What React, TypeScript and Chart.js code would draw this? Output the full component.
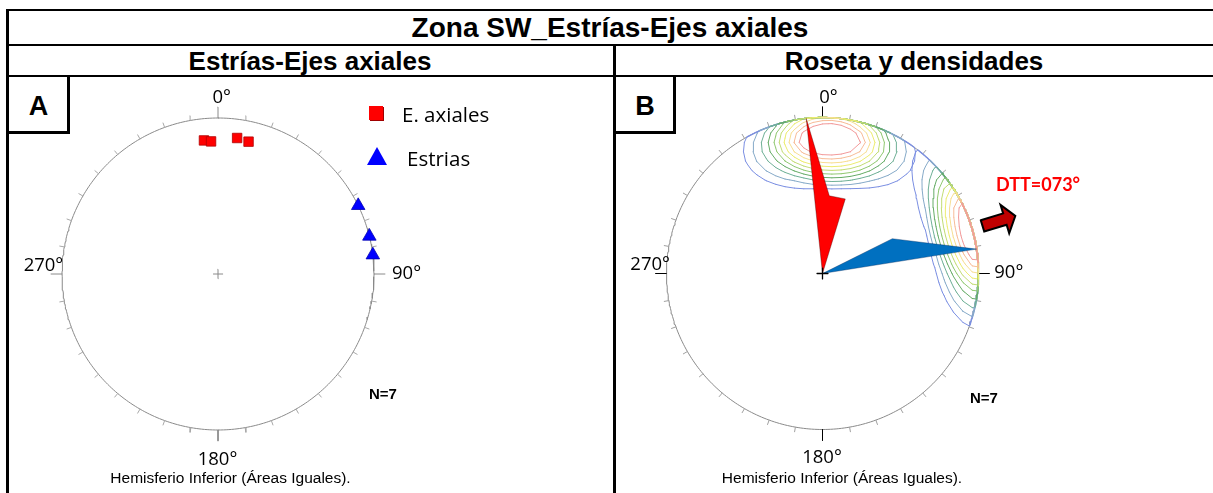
import React, { useEffect, useRef } from "react";
import { Chart, registerables } from "chart.js";

Chart.register(...registerables);

// ---------------- data ----------------
const axialTrends = [354, 357, 8, 13];
const axialPlunges = [15, 16, 13, 14];
const striaTrends = [64, 76, 83];
const striaPlunges = [0, 0, 0];

const roseAxialDirections = [354, 5, 17];
const roseAxialLengths = [1.0, 0.5, 0.5];
const roseStriaDirections = [63.5, 81];
const roseStriaLengths = [0.5, 1.0];

const dttAzimuth = 73;
const cardinalAngles = [0, 90, 180, 270];
const cardinalLabels = ["0°", "90°", "180°", "270°"];
const tickAngles = [10, 20, 30, 40, 50, 60, 70, 80, 100, 110, 120, 130, 140, 150, 160, 170, 190, 200, 210, 220, 230, 240, 250, 260, 280, 290, 300, 310, 320, 330, 340, 350];
const contourFractions = [0.08, 0.16, 0.24, 0.32, 0.4, 0.48, 0.56, 0.64, 0.72, 0.8];

// ---------------- styles / geometry ----------------
const contourColors = ["#7b8fe2", "#86aac8", "#6fb096", "#66ac66", "#90c870", "#c2dc74", "#ecec70", "#f7de92", "#f7bc98", "#f29a9a"];
const R_PX = 156;
const LEFT_C = { x: 218, y: 274 };
const RIGHT_C = { x: 822.5, y: 273.5 };
const LEFT_BOX = { left: 38, top: 94, width: 360, height: 360 };
const RIGHT_BOX = { left: 622, top: 93, width: 400, height: 362 };
const CONE_DEG = 33; // counting-cone half angle of the density kernel
const DEG = Math.PI / 180;

type P = { x: number | null; y: number | null };
const GAP: P = { x: null, y: null };

const polar = (az: number, r: number) => ({ x: r * Math.sin(az * DEG), y: r * Math.cos(az * DEG) });
function toPlane(trend: number, plunge: number) {
  const th = (90 - plunge) * DEG;
  return polar(trend, Math.SQRT2 * Math.sin(th / 2));
}
function toVec(trend: number, plunge: number) {
  const c = Math.cos(plunge * DEG);
  return [c * Math.sin(trend * DEG), c * Math.cos(trend * DEG), Math.sin(plunge * DEG)];
}
function planeToVec(x: number, y: number) {
  const r = Math.hypot(x, y);
  const th = 2 * Math.asin(Math.min(r / Math.SQRT2, 1));
  const az = Math.atan2(x, y);
  const s = Math.sin(th);
  return [s * Math.sin(az), s * Math.cos(az), Math.cos(th)];
}
function density(v: number[], vecs: number[][]) {
  let s = 0;
  for (const d of vecs) {
    const dot = Math.max(-1, Math.min(1, v[0] * d[0] + v[1] * d[1] + v[2] * d[2]));
    const ang = Math.acos(dot) / DEG;
    s += Math.max(0, 1 - ang / CONE_DEG);
  }
  return s;
}

function clipToCircle(p: { x: number; y: number }, q: { x: number; y: number }) {
  const pin = p.x * p.x + p.y * p.y <= 1;
  const qin = q.x * q.x + q.y * q.y <= 1;
  if (pin && qin) return [p, q];
  if (!pin && !qin) return null;
  const dx = q.x - p.x, dy = q.y - p.y;
  const A = dx * dx + dy * dy, B = 2 * (p.x * dx + p.y * dy), C = p.x * p.x + p.y * p.y - 1;
  const disc = Math.sqrt(Math.max(0, B * B - 4 * A * C));
  if (pin) {
    const t = (-B + disc) / (2 * A);
    return [p, { x: p.x + dx * t, y: p.y + dy * t }];
  }
  const t = (-B - disc) / (2 * A);
  return [{ x: p.x + dx * t, y: p.y + dy * t }, q];
}

function marching(g: number[][], xs: number[], L: number): P[] {
  const out: P[] = [];
  const n = xs.length;
  for (let j = 0; j < n - 1; j++) {
    for (let i = 0; i < n - 1; i++) {
      const va = g[j][i], vb = g[j][i + 1], vc = g[j + 1][i + 1], vd = g[j + 1][i];
      const ia = va >= L, ib = vb >= L, ic = vc >= L, id = vd >= L;
      if (ia === ib && ib === ic && ic === id) continue;
      const A = { x: xs[i], y: xs[j] }, B = { x: xs[i + 1], y: xs[j] };
      const C = { x: xs[i + 1], y: xs[j + 1] }, D = { x: xs[i], y: xs[j + 1] };
      const lerp = (p: any, q: any, vp: number, vq: number) => {
        const t = (L - vp) / (vq - vp);
        return { x: p.x + (q.x - p.x) * t, y: p.y + (q.y - p.y) * t };
      };
      const e0 = ia !== ib ? lerp(A, B, va, vb) : null;
      const e1 = ib !== ic ? lerp(B, C, vb, vc) : null;
      const e2 = ic !== id ? lerp(C, D, vc, vd) : null;
      const e3 = id !== ia ? lerp(D, A, vd, va) : null;
      const pts = [e0, e1, e2, e3].filter(Boolean) as { x: number; y: number }[];
      const segs: any[] = [];
      if (pts.length === 2) segs.push([pts[0], pts[1]]);
      else if (pts.length === 4) {
        const center = (va + vb + vc + vd) / 4 >= L;
        if (center === ia) segs.push([e0, e1], [e2, e3]);
        else segs.push([e3, e0], [e1, e2]);
      }
      for (const s of segs) {
        const c = clipToCircle(s[0], s[1]);
        if (c) out.push(c[0], c[1], GAP);
      }
    }
  }
  return out;
}

function buildContours(trends: number[], plunges: number[]) {
  const vecs = trends.map((t, i) => toVec(t, plunges[i]));
  const h = 0.06, ext = 1.2;
  const n = Math.round((2 * ext) / h) + 1;
  const xs = Array.from({ length: n }, (_, i) => -ext + i * h);
  const g: number[][] = [];
  let max = 0;
  for (let j = 0; j < n; j++) {
    const row: number[] = [];
    for (let i = 0; i < n; i++) {
      const v = density(planeToVec(xs[i], xs[j]), vecs);
      row.push(v);
      if (Math.hypot(xs[i], xs[j]) <= 1 && v > max) max = v;
    }
    g.push(row);
  }
  const rimVals: { p: any; v: number }[] = [];
  for (let a = 0; a <= 360; a += 0.5) {
    const p = polar(a, 1);
    const v = density(planeToVec(p.x * 0.9999, p.y * 0.9999), vecs);
    rimVals.push({ p, v });
    if (v > max) max = v;
  }
  const levels = contourFractions.map((f) => f * max);
  const lines = levels.map((L) => marching(g, xs, L));
  const rims = levels.map((L) => {
    const out: P[] = [];
    let open = false;
    for (const r of rimVals) {
      if (r.v >= L) { out.push(r.p); open = true; }
      else if (open) { out.push(GAP); open = false; }
    }
    return out;
  });
  return { lines, rims };
}

// ---------------- chart helpers ----------------
function makeScales(box: any, c: any) {
  return {
    x: { type: "linear", display: false, bounds: "data", min: (box.left - c.x) / R_PX, max: (box.left + box.width - c.x) / R_PX },
    y: { type: "linear", display: false, bounds: "data", min: -(box.top + box.height - c.y) / R_PX, max: (c.y - box.top) / R_PX },
  };
}
function baseOptions(box: any, c: any): any {
  return {
    responsive: false,
    maintainAspectRatio: false,
    animation: false,
    events: [],
    layout: { padding: 0, autoPadding: false },
    plugins: { legend: { display: false }, tooltip: { enabled: false }, title: { display: false } },
    scales: makeScales(box, c),
  };
}
function lineDS(data: P[], color: string, width: number, order: number, extra: any = {}) {
  return {
    data, borderColor: color, backgroundColor: color, borderWidth: width, pointRadius: 0, pointHoverRadius: 0,
    showLine: true, fill: false, spanGaps: false, order, tension: 0,
    borderCapStyle: "round", borderJoinStyle: "round", ...extra,
  };
}
function circlePts(): P[] {
  const out: P[] = [];
  for (let a = 0; a <= 360; a += 1) out.push(polar(a, 1));
  return out;
}
function tickPts(angles: number[], len: number): P[] {
  const out: P[] = [];
  for (const a of angles) out.push(polar(a, 1), polar(a, 1 + len), GAP);
  return out;
}
function crossPts(s: number): P[] {
  return [{ x: -s, y: 0 }, { x: s, y: 0 }, GAP, { x: 0, y: -s }, { x: 0, y: s }];
}
function rosePts(dirs: number[], lens: number[]): P[] {
  return [{ x: 0, y: 0 }, ...dirs.map((d, i) => polar(d, lens[i])), { x: 0, y: 0 }];
}
function arrowPts(az: number): P[] {
  const u = { x: Math.sin(az * DEG), y: Math.cos(az * DEG) };
  const v = { x: -u.y, y: u.x };
  const off = -0.008;
  const local = [[1.07, 0.038], [1.22, 0.038], [1.22, 0.095], [1.29, 0], [1.22, -0.095], [1.22, -0.038], [1.07, -0.038], [1.07, 0.038]];
  return local.map(([s, w]) => ({ x: u.x * s + v.x * (w + off), y: u.y * s + v.y * (w + off) }));
}

function leftConfig(): any {
  const axial = axialTrends.map((t, i) => toPlane(t, axialPlunges[i]));
  const stria = striaTrends.map((t, i) => toPlane(t, striaPlunges[i]));
  return {
    type: "line",
    data: {
      datasets: [
        lineDS(circlePts(), "#8a8a8a", 1, 100),
        lineDS(tickPts(tickAngles, 0.03), "#a8a8a8", 1, 90),
        lineDS(tickPts(cardinalAngles, 0.07), "#8a8a8a", 1, 89),
        lineDS(crossPts(0.03), "#8a8a8a", 1, 88),
        {
          data: axial, showLine: false, pointStyle: "rect", pointRadius: 6.7, pointHoverRadius: 6.7,
          pointBackgroundColor: "#ff0000", pointBorderColor: "#b00000", pointBorderWidth: 0.8, order: 10,
        },
        {
          data: stria, showLine: false, pointStyle: "triangle", pointRadius: 7.8, pointHoverRadius: 7.8,
          pointBackgroundColor: "#0000ff", pointBorderColor: "#0000b0", pointBorderWidth: 0.8, order: 9,
        },
      ],
    },
    options: baseOptions(LEFT_BOX, LEFT_C),
  };
}

function rightConfig(): any {
  const groups = [buildContours(axialTrends, axialPlunges), buildContours(striaTrends, striaPlunges)];
  const ds: any[] = [
    lineDS(circlePts(), "#8a8a8a", 1, 100),
    lineDS(tickPts(tickAngles, 0.03), "#a0a0a0", 1, 99),
    lineDS(tickPts(cardinalAngles, 0.07), "#000000", 1, 98),
  ];
  groups.forEach((grp) => {
    grp.lines.forEach((l, i) => ds.push(lineDS(l, contourColors[i], 1, 80 - i)));
    grp.rims.forEach((l, i) => ds.push(lineDS(l, contourColors[i], 1.4, 60 - i, { borderCapStyle: "butt" })));
  });
  ds.push(lineDS(rosePts(roseAxialDirections, roseAxialLengths), "rgba(60,0,0,0.6)", 0.6, 40, { fill: "shape", backgroundColor: "#ff0000", borderJoinStyle: "miter" }));
  ds.push(lineDS(rosePts(roseStriaDirections, roseStriaLengths), "rgba(0,40,90,0.6)", 0.6, 39, { fill: "shape", backgroundColor: "#0070c0", borderJoinStyle: "miter" }));
  ds.push(lineDS(crossPts(0.035), "#000000", 1.3, 30));
  ds.push(lineDS(arrowPts(dttAzimuth), "#000000", 2, 20, { fill: "shape", backgroundColor: "#c00000", borderJoinStyle: "miter" }));
  return { type: "line", data: { datasets: ds }, options: baseOptions(RIGHT_BOX, RIGHT_C) };
}

// ---------------- html helpers ----------------
const SANS = "'Liberation Sans', Arial, sans-serif";
const OPEN = "'Open Sans', sans-serif";

function Txt(props: { x: number; y: number; children: any; size: number; weight?: any; family?: string; color?: string; align?: string }) {
  const { x, y, children, size, weight = "normal", family = SANS, color = "#000", align = "center" } = props;
  const tx = align === "center" ? "-50%" : align === "right" ? "-100%" : "0";
  return (
    <div style={{ position: "absolute", left: x, top: y, transform: `translate(${tx}, -50%)`, fontSize: size, fontWeight: weight, fontFamily: family, color, lineHeight: 1, whiteSpace: "nowrap" }}>
      {children}
    </div>
  );
}
function Bar(props: { l: number; t: number; w: number; h: number }) {
  return <div style={{ position: "absolute", left: props.l, top: props.t, width: props.w, height: props.h, background: "#000" }} />;
}

export default function App() {
  const leftRef = useRef<HTMLCanvasElement>(null);
  const rightRef = useRef<HTMLCanvasElement>(null);

  useEffect(() => {
    const c1 = new Chart(leftRef.current as HTMLCanvasElement, leftConfig());
    const c2 = new Chart(rightRef.current as HTMLCanvasElement, rightConfig());
    return () => {
      c1.destroy();
      c2.destroy();
    };
  }, []);

  const nTotal = axialTrends.length + striaTrends.length;
  const dttText = `DTT=${String(dttAzimuth).padStart(3, "0")}°`;

  const canvasStyle = (b: any): any => ({ position: "absolute", left: b.left, top: b.top, width: b.width, height: b.height });

  return (
    <div style={{ position: "absolute", left: 0, top: 0, width: 1213, height: 493, background: "#fff", overflow: "hidden" }}>
      {/* frame */}
      <Bar l={6} t={9} w={1207} h={2} />
      <Bar l={6} t={44} w={1207} h={2} />
      <Bar l={6} t={75} w={1207} h={2} />
      <Bar l={6} t={9} w={3} h={484} />
      <Bar l={613} t={44} w={3} h={449} />
      <Bar l={67} t={75} w={3} h={59} />
      <Bar l={6} t={131} w={64} h={3} />
      <Bar l={673} t={75} w={3} h={59} />
      <Bar l={613} t={131} w={63} h={3} />

      <Txt x={610} y={27.5} size={28} weight="bold">Zona SW_Estrías-Ejes axiales</Txt>
      <Txt x={310} y={60.5} size={26} weight="bold">Estrías-Ejes axiales</Txt>
      <Txt x={914} y={60.5} size={26} weight="bold">Roseta y densidades</Txt>
      <Txt x={38.5} y={106} size={27} weight="bold">A</Txt>
      <Txt x={645} y={106} size={27} weight="bold">B</Txt>

      <canvas ref={leftRef} width={LEFT_BOX.width} height={LEFT_BOX.height} style={canvasStyle(LEFT_BOX)} />
      <canvas ref={rightRef} width={RIGHT_BOX.width} height={RIGHT_BOX.height} style={canvasStyle(RIGHT_BOX)} />

      {/* left labels */}
      <Txt x={212.5} y={95.5} size={18.5} family={OPEN} align="left">{cardinalLabels[0]}</Txt>
      <Txt x={392} y={271.7} size={18.5} family={OPEN} align="left">{cardinalLabels[1]}</Txt>
      <Txt x={217.5} y={458} size={18.5} family={OPEN}>{cardinalLabels[2]}</Txt>
      <Txt x={63.3} y={263.7} size={18.5} family={OPEN} align="right">{cardinalLabels[3]}</Txt>
      <Txt x={383} y={393} size={15} weight="bold">{`N=${nTotal}`}</Txt>
      <Txt x={230.5} y={478} size={15.5}>Hemisferio Inferior (Áreas Iguales).</Txt>

      {/* legend */}
      <div style={{ position: "absolute", left: 369, top: 106, width: 14, height: 14, background: "#ff0000", boxShadow: "1px 1px 0 #a00000" }} />
      <Txt x={402} y={113.5} size={20.5} family={OPEN} align="left">E. axiales</Txt>
      <div style={{ position: "absolute", left: 367, top: 147, width: 0, height: 0, borderLeft: "10px solid transparent", borderRight: "10px solid transparent", borderBottom: "18px solid #0000ff" }} />
      <Txt x={407} y={158} size={20.5} family={OPEN} align="left">Estrias</Txt>

      {/* right labels */}
      <Txt x={819.3} y={96.3} size={18.5} family={OPEN} align="left">{cardinalLabels[0]}</Txt>
      <Txt x={994.3} y={271.3} size={18.5} family={OPEN} align="left">{cardinalLabels[1]}</Txt>
      <Txt x={822} y={456} size={18.5} family={OPEN}>{cardinalLabels[2]}</Txt>
      <Txt x={670} y={262.5} size={18.5} family={OPEN} align="right">{cardinalLabels[3]}</Txt>
      <Txt x={984} y={397} size={15} weight="bold">{`N=${nTotal}`}</Txt>
      <Txt x={842} y={478} size={15.5}>Hemisferio Inferior (Áreas Iguales).</Txt>
      <Txt x={996} y={184} size={18} weight="bold" family="Lato, 'Open Sans', sans-serif" color="#ff0000" align="left">{dttText}</Txt>
    </div>
  );
}
